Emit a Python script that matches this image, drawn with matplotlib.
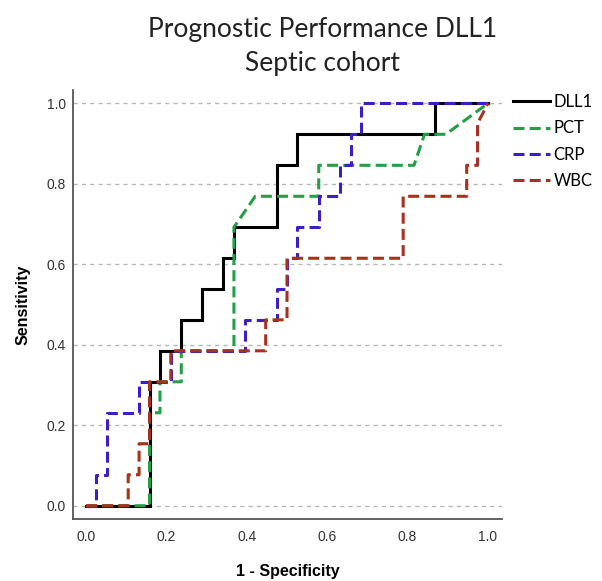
import matplotlib
matplotlib.use("Agg")
import matplotlib.pyplot as plt

# ---- data ----
dll1_fpr = [0, 0.158, 0.158, 0.184, 0.184, 0.237, 0.237, 0.289, 0.289, 0.342, 0.342,
            0.368, 0.368, 0.474, 0.474, 0.526, 0.526, 0.868, 0.868, 1.0]
dll1_tpr = [0, 0, 0.308, 0.308, 0.385, 0.385, 0.462, 0.462, 0.538, 0.538, 0.615,
            0.615, 0.692, 0.692, 0.846, 0.846, 0.923, 0.923, 1.0, 1.0]

pct_fpr = [0, 0.158, 0.158, 0.184, 0.184, 0.237, 0.237, 0.368, 0.368, 0.421,
           0.579, 0.579, 0.816, 0.842, 0.895, 1.0]
pct_tpr = [0, 0, 0.231, 0.231, 0.308, 0.308, 0.385, 0.385, 0.692, 0.769,
           0.769, 0.846, 0.846, 0.923, 0.923, 1.0]

crp_fpr = [0, 0.026, 0.026, 0.053, 0.053, 0.132, 0.132, 0.211, 0.211, 0.395, 0.395,
           0.474, 0.474, 0.500, 0.500, 0.526, 0.526, 0.579, 0.579, 0.632, 0.632,
           0.658, 0.658, 0.684, 0.684, 1.0]
crp_tpr = [0, 0, 0.077, 0.077, 0.231, 0.231, 0.308, 0.308, 0.385, 0.385, 0.462,
           0.462, 0.538, 0.538, 0.615, 0.615, 0.692, 0.692, 0.769, 0.769, 0.846,
           0.846, 0.923, 0.923, 1.0, 1.0]

wbc_fpr = [0, 0.105, 0.105, 0.132, 0.132, 0.158, 0.158, 0.211, 0.211, 0.447, 0.447,
           0.500, 0.500, 0.789, 0.789, 0.947, 0.947, 0.974, 0.974, 1.0]
wbc_tpr = [0, 0, 0.077, 0.077, 0.154, 0.154, 0.308, 0.308, 0.385, 0.385, 0.462,
           0.462, 0.615, 0.615, 0.769, 0.769, 0.846, 0.846, 0.95, 1.0]

series_names = ["DLL1", "PCT", "CRP", "WBC"]
ticks = [0.0, 0.2, 0.4, 0.6, 0.8, 1.0]
tick_labels = ["0.0", "0.2", "0.4", "0.6", "0.8", "1.0"]

# ---- figure ----
fig = plt.figure(figsize=(6.02, 5.81), dpi=100)
ax = fig.add_axes([0.1213, 0.1067, 0.7127, 0.7383])

ax.set_xlim(-0.0323, 1.035)
ax.set_ylim(-0.033, 1.033)

for t in ticks:
    ax.axhline(t, color="#b8b8b8", lw=1.0, ls=(0, (3, 3)), zorder=0.5)

dash = (0, (3.6, 1.7))
ax.plot(dll1_fpr, dll1_tpr, color="black", lw=2.2, label=series_names[0], zorder=2,
        solid_joinstyle="miter")
ax.plot(pct_fpr, pct_tpr, color="#23a046", lw=2.2, ls=dash, label=series_names[1], zorder=3)
ax.plot(crp_fpr, crp_tpr, color="#3a1fc8", lw=2.2, ls=dash, label=series_names[2], zorder=4)
ax.plot(wbc_fpr, wbc_tpr, color="#a8301c", lw=2.2, ls=dash, label=series_names[3], zorder=5)

for s in ["top", "right"]:
    ax.spines[s].set_visible(False)
for s in ["left", "bottom"]:
    ax.spines[s].set_color("#555555")
    ax.spines[s].set_linewidth(1.3)

ax.set_xticks(ticks)
ax.set_xticklabels(tick_labels)
ax.set_yticks(ticks)
ax.set_yticklabels(tick_labels)
ax.tick_params(length=0, labelsize=10, labelcolor="#333333")
ax.tick_params(axis="x", pad=8)
ax.tick_params(axis="y", pad=5)
for lab in ax.get_xticklabels() + ax.get_yticklabels():
    lab.set_fontfamily("Liberation Sans")

ax.set_xlabel("1 - Specificity", fontsize=11.5, fontweight="bold",
              fontfamily="Liberation Sans", labelpad=14)
ax.set_ylabel("Sensitivity", fontsize=11.5, fontweight="bold",
              fontfamily="Liberation Sans", labelpad=12)

fig.text(0.535, 0.95, "Prognostic Performance DLL1", ha="center", va="center",
         fontsize=19, fontfamily="Lato", color="#222222")
fig.text(0.536, 0.89, "Septic cohort", ha="center", va="center",
         fontsize=19, fontfamily="Lato", color="#222222")

leg = ax.legend(loc="upper left", bbox_to_anchor=(0.852, 0.838),
                bbox_transform=fig.transFigure, frameon=False,
                prop={"family": "Lato", "size": 12}, handlelength=2.2,
                handletextpad=0.25, labelspacing=0.62, borderaxespad=0,
                borderpad=0)

fig.savefig("out.png", dpi=100)
